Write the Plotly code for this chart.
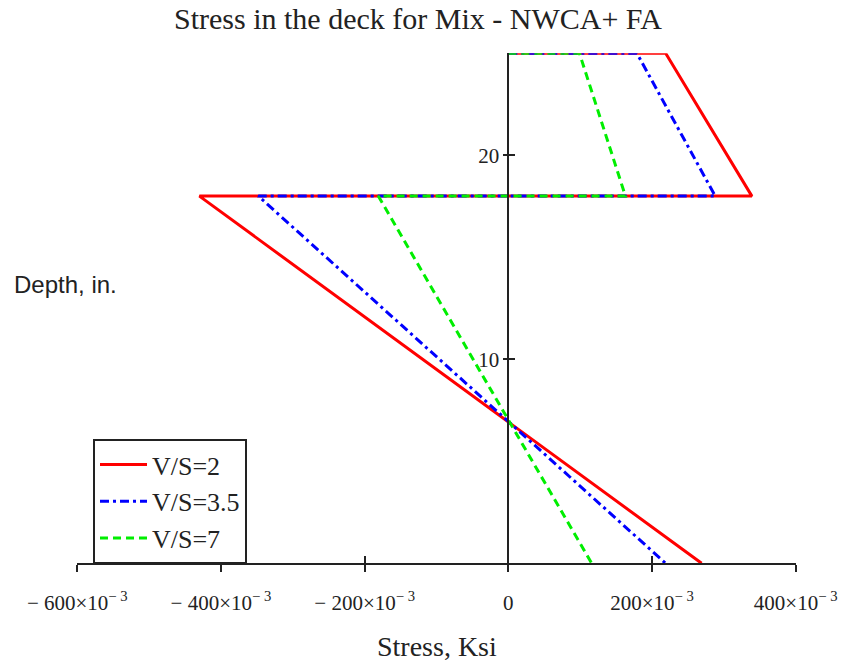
import plotly.graph_objects as go

# Data (stress in ksi, depth in inches)
depth = [25, 25, 18, 18, 0]
series_names = ["V/S=2", "V/S=3.5", "V/S=7"]
stress_vs2 = [0.0, 0.219, 0.339, -0.430, 0.269]
stress_vs35 = [0.0, 0.179, 0.288, -0.348, 0.219]
stress_vs7 = [0.0, 0.099, 0.163, -0.181, 0.116]

x_tickvals = [-0.6, -0.4, -0.2, 0.0, 0.2, 0.4]
x_ticktext = ["\u2212 600\u00d710<sup>\u2212 3</sup>", "\u2212 400\u00d710<sup>\u2212 3</sup>",
              "\u2212 200\u00d710<sup>\u2212 3</sup>", "0",
              "200\u00d710<sup>\u2212 3</sup>", "400\u00d710<sup>\u2212 3</sup>"]
y_tickvals = [10, 20]

colors = ["#ff0000", "#0000ff", "#00ee00"]
dashes = ["solid", "9px,4px,3px,4px", "8px,5px"]

W, H = 847, 665
serif = "Liberation Serif, Times New Roman, serif"


def px(xp):
    return xp / W


def py(yp):
    return (H - yp) / H


fig = go.Figure()
for name, xs, c, d in zip(series_names, [stress_vs2, stress_vs35, stress_vs7], colors, dashes):
    fig.add_trace(go.Scatter(x=xs, y=depth, mode="lines", name=name,
                             line=dict(color=c, width=3, dash=d)))
# helper trace for secondary (tick) axes
fig.add_trace(go.Scatter(x=[None], y=[None], xaxis="x2", yaxis="y2", showlegend=False,
                         hoverinfo="skip"))

x0, x1 = px(77.3), px(795.7)
y0, y1 = py(563.3), py(53.3)
xr = [-0.6, 0.4]
yr = [0, 25]
ypos = x0 + (0 - xr[0]) / (xr[1] - xr[0]) * (x1 - x0)

ink = "#222222"
axis_font = dict(family=serif, size=21, color=ink)
fig.update_layout(
    width=W, height=H,
    margin=dict(l=0, r=0, t=0, b=0),
    paper_bgcolor="white", plot_bgcolor="white",
    showlegend=True,
    xaxis=dict(domain=[x0, x1], range=xr, showgrid=False, zeroline=False,
               showline=True, linecolor=ink, linewidth=2,
               ticks="outside", ticklen=7, tickwidth=2, tickcolor=ink,
               tickvals=x_tickvals, ticktext=x_ticktext, tickfont=axis_font,
               ticklabelstandoff=12, automargin=False, anchor="y"),
    yaxis=dict(domain=[y0, y1], range=yr, showgrid=False, zeroline=False,
               showline=True, linecolor=ink, linewidth=2,
               ticks="outside", ticklen=4, tickwidth=2, tickcolor=ink,
               tickvals=y_tickvals, tickfont=axis_font,
               anchor="free", position=ypos, automargin=False),
    xaxis2=dict(overlaying="x", range=xr, domain=[x0, x1], showgrid=False, zeroline=False,
                showline=False, ticks="inside", ticklen=7, tickwidth=2, tickcolor=ink,
                tickvals=x_tickvals, showticklabels=False, anchor="y", side="bottom"),
    yaxis2=dict(overlaying="y", range=yr, showgrid=False, zeroline=False,
                showline=False, ticks="inside", ticklen=6, tickwidth=2, tickcolor=ink,
                tickvals=y_tickvals, showticklabels=False, anchor="free", position=ypos,
                side="left"),
    legend=dict(x=px(93), y=py(439), xanchor="left", yanchor="top",
                bgcolor="white", bordercolor=ink, borderwidth=2,
                font=dict(family=serif, size=26, color=ink),
                itemwidth=47, tracegroupgap=0),
    annotations=[
        dict(text="Stress in the deck for Mix - NWCA+ FA", x=px(417.5), y=1.0,
             xref="paper", yref="paper", showarrow=False, xanchor="center", yanchor="top",
             font=dict(family=serif, size=30, color=ink)),
        dict(text="Stress, Ksi", x=px(437), y=py(646),
             xref="paper", yref="paper", showarrow=False, xanchor="center", yanchor="middle",
             font=dict(family=serif, size=28, color=ink)),
        dict(text="Depth, in.", x=px(12), y=py(284),
             xref="paper", yref="paper", showarrow=False, xanchor="left", yanchor="middle",
             font=dict(family="Liberation Sans, Arial, sans-serif", size=24, color=ink)),
    ],
)

# remove the default page margin so the 847x665 figure fills the window exactly
fig.write_html("out.html", config={"displayModeBar": False},
               post_script="document.body.style.margin='0px';document.body.style.overflow='hidden';")
